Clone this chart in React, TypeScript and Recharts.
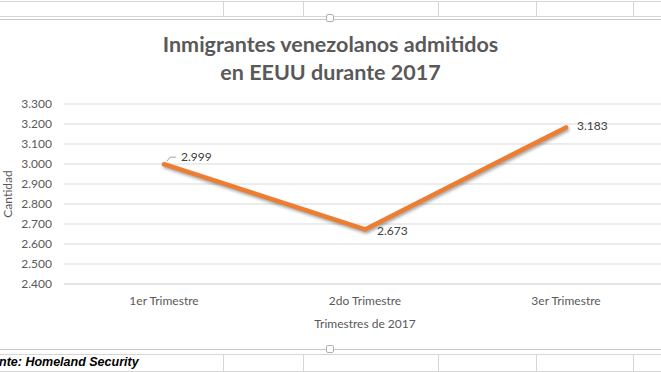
import React from 'react';
import { LineChart, Line, XAxis, YAxis, CartesianGrid, LabelList } from 'recharts';

const quarters = ['1er Trimestre', '2do Trimestre', '3er Trimestre'];
const admitted = [2999, 2673, 3183];
const yTicks = [2400, 2500, 2600, 2700, 2800, 2900, 3000, 3100, 3200, 3300];
const cellCols = [223, 303, 438, 536, 633];

const data = quarters.map((q, i) => ({ quarter: q, value: admitted[i] }));

const GRAY = '#595959';
const FONT = 'Lato, "Open Sans", sans-serif';

const fmt = (v: number) => (v / 1000).toFixed(3);

// label offsets per point, like Excel's manual label placement
const labelOffsets = [
  { dx: 17, dy: -6, leader: true },
  { dx: 12, dy: 3, leader: false },
  { dx: 11, dy: 0, leader: false },
];

const PointLabel = (props: any) => {
  const { x, y, value, index } = props;
  const o = labelOffsets[index] || { dx: 10, dy: 0, leader: false };
  return (
    <g>
      {o.leader && (
        <polyline
          points={`${x + 3},${y - 3} ${x + 6},${y - 7} ${x + 12},${y - 7}`}
          fill="none"
          stroke="#a6a6a6"
          strokeWidth={1}
        />
      )}
      <text x={x + o.dx} y={y + o.dy} fill="#404040" fontSize={12} fontFamily={FONT} dominantBaseline="middle">
        {fmt(value)}
      </text>
    </g>
  );
};

const Handle = ({ top }: { top: number }) => (
  <div
    style={{
      position: 'absolute',
      left: 326,
      top,
      width: 6,
      height: 6,
      border: '1px solid #b0b0b0',
      borderRadius: 2,
      background: '#fff',
    }}
  />
);

export default function App() {
  return (
    <div
      style={{
        position: 'absolute',
        left: 0,
        top: 0,
        width: 661,
        height: 372,
        overflow: 'hidden',
        background: '#fff',
      }}
    >
      {/* spreadsheet cells above and below the chart */}
      <div style={{ position: 'absolute', left: 0, top: 1, width: 661, height: 14, borderTop: '1px solid #d6d6d6', borderBottom: '1px solid #d6d6d6' }} />
      <div style={{ position: 'absolute', left: 0, top: 354, width: 661, height: 16, borderTop: '1px solid #d6d6d6', borderBottom: '1px solid #d6d6d6' }} />
      {cellCols.map((x) => (
        <React.Fragment key={x}>
          <div style={{ position: 'absolute', left: x, top: 1, width: 1, height: 15, background: '#d6d6d6' }} />
          <div style={{ position: 'absolute', left: x, top: 354, width: 1, height: 17, background: '#d6d6d6' }} />
        </React.Fragment>
      ))}
      <div style={{ position: 'absolute', left: 0, top: 19, width: 661, height: 1, background: '#c6c6c6' }} />
      <div style={{ position: 'absolute', left: 0, top: 349, width: 661, height: 1, background: '#c6c6c6' }} />
      <Handle top={14} />
      <Handle top={345} />

      <div
        style={{
          position: 'absolute',
          left: 0,
          top: 30,
          width: 661,
          textAlign: 'center',
          fontFamily: FONT,
          fontWeight: 700,
          fontSize: 21.5,
          lineHeight: '28px',
          color: GRAY,
        }}
      >
        Inmigrantes venezolanos admitidos
        <br />
        en EEUU durante 2017
      </div>

      <div style={{ position: 'absolute', left: 0, top: 0 }}>
        <LineChart width={682} height={372} data={data} margin={{ top: 104, right: 16, bottom: 42, left: 0 }}>
          <CartesianGrid vertical={false} stroke="#d9d9d9" />
          <XAxis
            dataKey="quarter"
            padding={{ left: 100, right: 100 }}
            axisLine={{ stroke: '#d9d9d9' }}
            tickLine={false}
            tickMargin={6}
            height={46}
            interval={0}
            tick={{ fill: GRAY, fontSize: 12, fontFamily: FONT }}
            label={{ value: 'Trimestres de 2017', position: 'insideBottom', offset: 2, fill: GRAY, fontSize: 12, fontFamily: FONT }}
          />
          <YAxis
            width={64}
            domain={[2400, 3300]}
            ticks={yTicks}
            interval={0}
            tickFormatter={fmt}
            axisLine={false}
            tickLine={false}
            tickMargin={6}
            tick={{ fill: GRAY, fontSize: 12, fontFamily: FONT }}
            label={{
              content: () => (
                <text x={9} y={194} transform="rotate(-90 9 194)" textAnchor="middle" dominantBaseline="middle" fill={GRAY} fontSize={12} fontFamily={FONT}>
                  Cantidad
                </text>
              ),
            }}
          />
          <Line
            type="linear"
            dataKey="value"
            stroke="#ED7D31"
            strokeWidth={4.5}
            strokeLinecap="round"
            strokeLinejoin="round"
            dot={false}
            isAnimationActive={false}
            style={{ filter: 'drop-shadow(1px 2px 1.5px rgba(0,0,0,0.35))' }}
          >
            <LabelList dataKey="value" content={PointLabel} />
          </Line>
        </LineChart>
      </div>

      <div
        style={{
          position: 'absolute',
          left: -1,
          top: 355,
          fontFamily: '"Liberation Sans", Arial, sans-serif',
          fontWeight: 700,
          fontStyle: 'italic',
          fontSize: 12.5,
          lineHeight: '15px',
          color: '#000',
        }}
      >
        nte: Homeland Security
      </div>
    </div>
  );
}
